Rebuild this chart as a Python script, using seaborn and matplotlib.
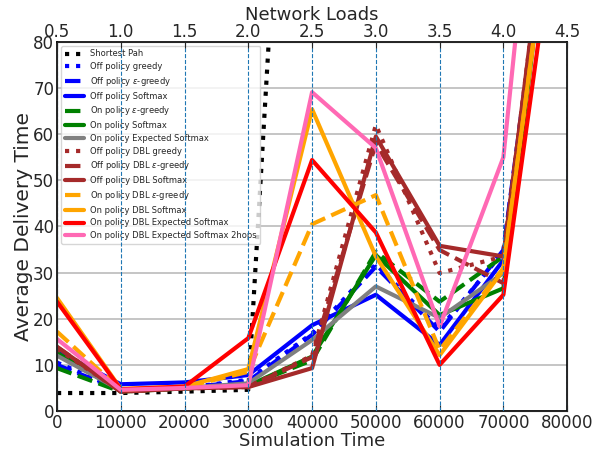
import numpy as np
import matplotlib
matplotlib.use("Agg")
import matplotlib.pyplot as plt
import pandas as pd
import seaborn as sns

sns.set_style("white")
plt.rcParams['font.family'] = ['DejaVu Sans']

# simulation time steps
sim_time = [0, 10000, 20000, 30000, 40000, 50000, 60000, 70000, 80000]
load_ticks = [0.5, 1.0, 1.5, 2.0, 2.5, 3.0, 3.5, 4.0, 4.5]

shortest_path = [3.9, 3.9, 4.2, 4.6, 240, 400, 500, 560, 600]
off_greedy = [10.5, 4.6, 5.0, 6.8, 16.8, 31.8, 17.8, 34.5, 140]
off_egreedy = [10.0, 4.5, 5.0, 6.5, 16.5, 31.3, 17.2, 34.9, 140]
off_softmax = [13.0, 5.8, 6.2, 7.8, 18.6, 25.2, 14.3, 32.7, 140]
on_egreedy = [9.3, 4.2, 4.9, 5.5, 11.0, 34.5, 23.7, 33.5, 140]
on_softmax = [12.6, 4.3, 4.9, 5.5, 11.8, 33.8, 20.8, 26.6, 140]
on_exp_softmax = [12.0, 4.5, 5.0, 6.0, 15.4, 27.0, 20.2, 29.9, 140]
off_dbl_greedy = [13.5, 4.3, 4.9, 5.3, 12.0, 62.0, 29.9, 33.5, 145]
off_dbl_egreedy = [13.9, 4.2, 4.9, 5.2, 11.7, 58.0, 34.9, 27.7, 150]
off_dbl_softmax = [13.9, 4.2, 4.9, 5.2, 9.3, 59.5, 35.8, 33.5, 145]
on_dbl_egreedy = [17.2, 4.6, 5.2, 8.5, 40.5, 46.8, 13.2, 31.0, 135]
on_dbl_softmax = [24.5, 4.8, 5.3, 9.1, 65.4, 33.5, 12.1, 30.6, 136]
on_dbl_exp_softmax = [23.7, 4.7, 5.3, 15.8, 54.4, 38.7, 10.0, 25.2, 125]
on_dbl_exp_softmax_2hops = [15.6, 4.6, 5.0, 5.6, 69.1, 57.0, 18.3, 55.0, 190]

series = [
    ("Shortest Pah", shortest_path, "black", ":"),
    ("Off policy greedy", off_greedy, "blue", ":"),
    (r"Off policy $\epsilon$-greedy", off_egreedy, "blue", "--"),
    ("Off policy Softmax", off_softmax, "blue", "-"),
    (r"On policy $\epsilon$-greedy", on_egreedy, "green", "--"),
    ("On policy Softmax", on_softmax, "green", "-"),
    ("On policy Expected Softmax", on_exp_softmax, "gray", "-"),
    ("Off policy DBL greedy", off_dbl_greedy, "brown", ":"),
    (r"Off policy DBL $\epsilon$-greedy", off_dbl_egreedy, "brown", "--"),
    ("Off policy DBL Softmax", off_dbl_softmax, "brown", "-"),
    (r"On policy DBL $\epsilon$-greedy", on_dbl_egreedy, "orange", "--"),
    ("On policy DBL Softmax", on_dbl_softmax, "orange", "-"),
    ("On policy DBL Expected Softmax", on_dbl_exp_softmax, "red", "-"),
    ("On policy DBL Expected Softmax 2hops", on_dbl_exp_softmax_2hops, "hotpink", "-"),
]

fig = plt.figure(figsize=(5.97, 4.49), dpi=100)
ax = fig.add_axes([0.0955, 0.0846, 0.8545, 0.822])

for label, vals, color, ls in series:
    sns.lineplot(x=sim_time, y=vals, ax=ax, color=color, linestyle=ls,
                 lw=3, label=label)

ax.set_xlim(0, 80000)
ax.set_ylim(0, 80)
ax.set_xticks(sim_time)
ax.set_yticks(range(0, 81, 10))
ax.yaxis.grid(True, color="#bbbbbb", lw=1.2)
ax.xaxis.grid(False)
ax.tick_params(direction="in", labelsize=12, length=4, pad=2)
ax.set_xlabel("Simulation Time", fontsize=13, labelpad=0)
ax.set_ylabel("Average Delivery Time", fontsize=14.5, labelpad=0)
for sp in ax.spines.values():
    sp.set_color("black")
    sp.set_linewidth(1.2)

ax2 = ax.twiny()
ax2.set_xlim(0.5, 4.5)
ax2.set_xticks(load_ticks)
ax2.tick_params(direction="in", labelsize=12, length=4, pad=1)
ax2.set_xlabel("Network Loads", fontsize=13, labelpad=2)
ax2.xaxis.grid(True, color="tab:blue", linestyle="--", lw=0.8)

leg = ax.legend(loc="upper left", fontsize=6, labelspacing=0.45,
                handlelength=2.3, borderpad=0.4, frameon=True)
leg.get_frame().set_edgecolor("#cccccc")

fig.savefig("out.png", dpi=100)
